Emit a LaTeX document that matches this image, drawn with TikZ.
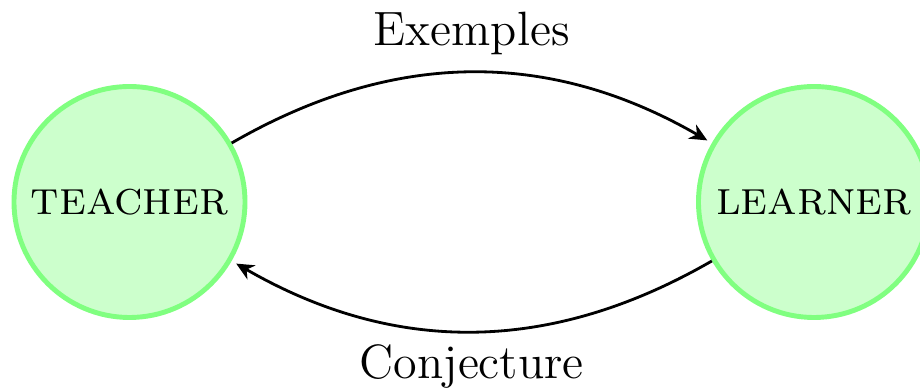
\documentclass[tikz,border=0pt]{standalone}
\usetikzlibrary{arrows.meta}
\tikzset{
	agent/.style={circle, draw=green!50, fill=green!20, line width=1.4pt, minimum size=2.31cm, inner sep=0pt},
	exchange/.style={-{Stealth[length=5pt, width=4.6pt, inset=1.6pt]}, thick, shorten >=1.5pt}
}
\begin{document}
	\begin{tikzpicture}[font=\fontsize{13.7}{16.5}\selectfont]
		\useasboundingbox (0,0) rectangle (9.2,3.9);
		\node[agent] (teacher) at (1.295,1.88) {\textsc{teacher}};
		\node[agent] (learner) at (8.14,1.88) {\textsc{learner}};
		\draw[exchange] (teacher) to[bend left=30] node[midway, above=1.5pt] {Exemples} (learner);
		\draw[exchange] (learner) to[bend left=30] node[midway, below] {Conjecture} (teacher);
	\end{tikzpicture}
\end{document}
